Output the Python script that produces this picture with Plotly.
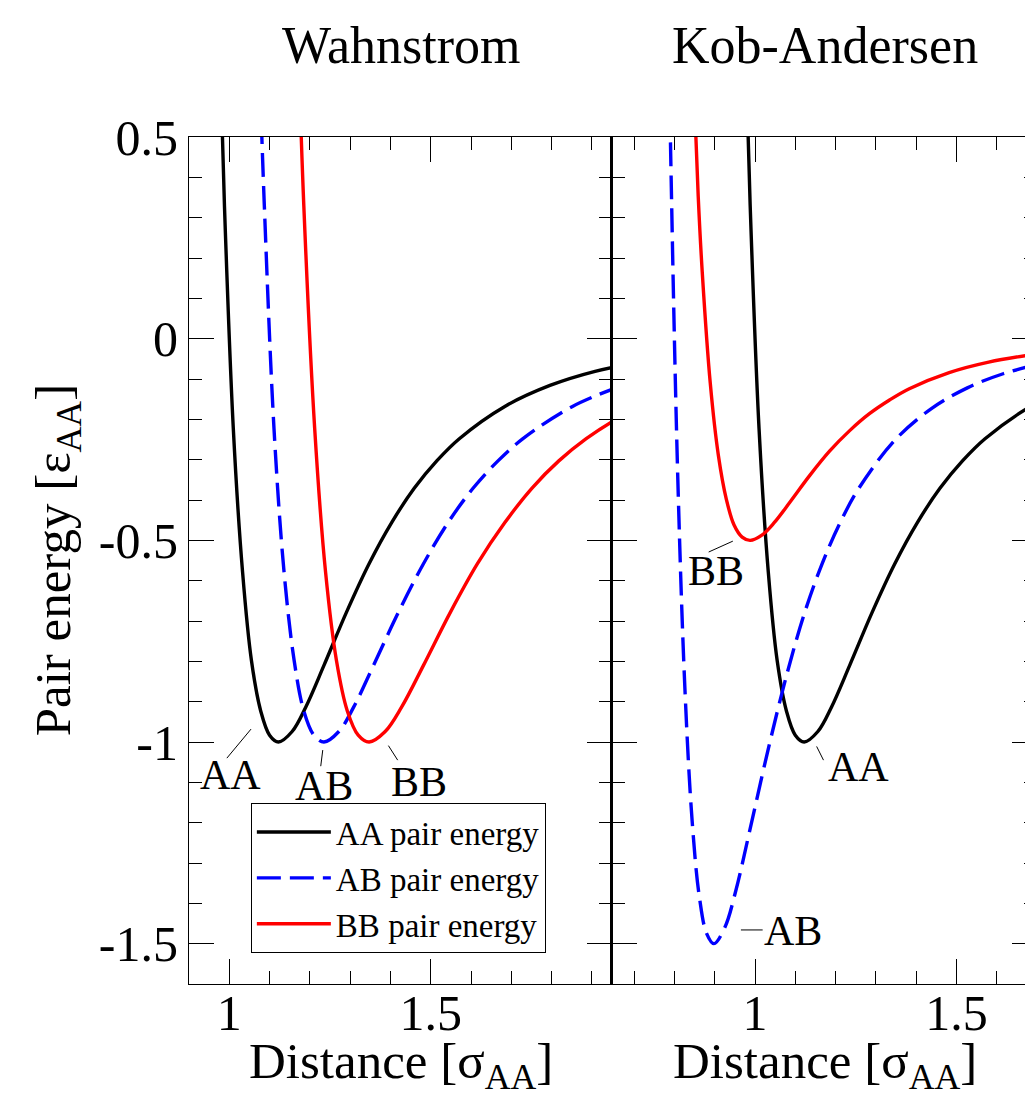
import plotly.graph_objects as go

FONT = "Liberation Serif"

# ---------------- data ----------------
# Wahnstrom
w_aa_x = [0.977, 0.988, 1.010, 1.033, 1.055, 1.078, 1.100, 1.122, 1.156, 1.190, 1.235,
          1.291, 1.347, 1.403, 1.459, 1.515, 1.571, 1.684, 1.796, 1.908, 2.020]
w_aa_y = [0.706, 0.330, -0.223, -0.579, -0.798, -0.923, -0.983, -1.000, -0.974, -0.913, -0.810,
          -0.678, -0.558, -0.456, -0.371, -0.303, -0.248, -0.168, -0.116, -0.081, -0.058]

w_ab_x = [1.074, 1.087, 1.111, 1.136, 1.161, 1.185, 1.210, 1.235, 1.272, 1.309, 1.358,
          1.420, 1.482, 1.543, 1.605, 1.667, 1.729, 1.852, 1.976]
w_ab_y = [0.706, 0.330, -0.223, -0.579, -0.798, -0.923, -0.983, -1.000, -0.974, -0.913, -0.810,
          -0.678, -0.558, -0.456, -0.371, -0.303, -0.248, -0.168, -0.116]

w_bb_x = [1.172, 1.185, 1.212, 1.239, 1.266, 1.293, 1.320, 1.347, 1.387, 1.428, 1.482,
          1.549, 1.616, 1.684, 1.751, 1.818, 1.886, 1.953, 2.020]
w_bb_y = [0.706, 0.330, -0.223, -0.579, -0.798, -0.923, -0.983, -1.000, -0.974, -0.913, -0.810,
          -0.678, -0.558, -0.456, -0.371, -0.303, -0.248, -0.204, -0.168]

# Kob-Andersen
ka_aa_x = [0.977, 0.988, 1.010, 1.033, 1.055, 1.078, 1.100, 1.122, 1.156, 1.190, 1.235,
           1.291, 1.347, 1.403, 1.459, 1.515, 1.571, 1.684, 1.796]
ka_aa_y = [0.706, 0.330, -0.223, -0.579, -0.798, -0.923, -0.983, -1.000, -0.974, -0.913, -0.810,
           -0.678, -0.558, -0.456, -0.371, -0.303, -0.248, -0.168, -0.116]

ka_ab_x = [0.781, 0.790, 0.808, 0.826, 0.844, 0.862, 0.880, 0.898, 0.925, 0.952, 0.988,
           1.033, 1.078, 1.122, 1.167, 1.212, 1.257, 1.347, 1.437, 1.527, 1.616, 1.706]
ka_ab_y = [1.059, 0.495, -0.334, -0.868, -1.197, -1.385, -1.475, -1.500, -1.460, -1.370, -1.215,
           -1.017, -0.836, -0.683, -0.557, -0.455, -0.372, -0.252, -0.174, -0.122, -0.087, -0.063]

ka_bb_x = [0.840, 0.850, 0.859, 0.869, 0.889, 0.909, 0.929, 0.948, 0.968, 0.988, 1.017, 1.047,
           1.087, 1.136, 1.185, 1.235, 1.284, 1.334, 1.383, 1.482, 1.580, 1.679, 1.778]
ka_bb_y = [0.864, 0.583, 0.353, 0.165, -0.111, -0.289, -0.399, -0.462, -0.492, -0.500, -0.487, -0.457,
           -0.405, -0.339, -0.279, -0.228, -0.186, -0.152, -0.124, -0.084, -0.058, -0.041, -0.029]

series_names = ["AA pair energy", "AB pair energy", "BB pair energy"]
panel_titles = ["Wahnstrom", "Kob-Andersen"]
x_tickvals = [1, 1.5]
x_ticktext = ["1", "1.5"]
y_tickvals = [0.5, 0, -0.5, -1, -1.5]
y_ticktext = ["0.5", "0", "-0.5", "-1", "-1.5"]

# ---------------- figure ----------------
styles = [
    dict(color="#000000", width=3.4, shape="spline"),
    dict(color="#0000FF", width=3.4, shape="spline", dash="24px,9px"),
    dict(color="#FF0000", width=3.4, shape="spline"),
]

fig = go.Figure()
left = [(w_aa_x, w_aa_y), (w_ab_x, w_ab_y), (w_bb_x, w_bb_y)]
right = [(ka_aa_x, ka_aa_y), (ka_ab_x, ka_ab_y), (ka_bb_x, ka_bb_y)]
for i, (xs, ys) in enumerate(left):
    fig.add_trace(go.Scatter(x=xs, y=ys, mode="lines", line=styles[i], name=series_names[i],
                             legendgroup=series_names[i], xaxis="x", yaxis="y"))
for i, (xs, ys) in enumerate(right):
    fig.add_trace(go.Scatter(x=xs, y=ys, mode="lines", line=styles[i], name=series_names[i],
                             legendgroup=series_names[i], showlegend=False, xaxis="x2", yaxis="y2"))

# page coordinates: body margin of 8px shifts the figure
OFF = 8
P_LEFT, P_SPLIT, P_RIGHT = 189, 613, 1039
P_TOP, P_BOT = 137, 984
FW = P_RIGHT - OFF          # figure width (right panel runs to the window edge)
FH = 1097 - OFF
ML, MR = P_LEFT - OFF, 0
MT, MB = P_TOP - OFF, FH - (P_BOT - OFF)
PW, PH = P_RIGHT - P_LEFT, P_BOT - P_TOP
split = (P_SPLIT - P_LEFT) / PW


def px2paper(px, py):
    return (px - P_LEFT) / PW, (P_BOT - py) / PH


tickfont = dict(family=FONT, size=50, color="black")
common_x = dict(tickmode="array", tickvals=x_tickvals, ticktext=x_ticktext,
                ticks="inside", ticklen=25, tickwidth=1.2, tickcolor="black",
                minor=dict(tickmode="linear", tick0=0, dtick=0.1, ticks="inside",
                           ticklen=13, tickwidth=1.2, tickcolor="black"),
                showline=True, linecolor="black", linewidth=1.2, mirror="ticks",
                showgrid=False, zeroline=False, tickfont=tickfont, ticklabelstandoff=-15)
common_y = dict(tickmode="array", tickvals=y_tickvals, ticktext=y_ticktext,
                ticks="inside", ticklen=25, tickwidth=1.2, tickcolor="black",
                minor=dict(tickmode="linear", tick0=0, dtick=0.1, ticks="inside",
                           ticklen=13, tickwidth=1.2, tickcolor="black"),
                showline=True, linecolor="black", mirror="ticks",
                showgrid=False, zeroline=False, tickfont=tickfont, range=[-1.6, 0.5])

fig.update_layout(
    width=FW, height=FH,
    margin=dict(l=ML, r=MR, t=MT, b=MB, pad=0),
    paper_bgcolor="white", plot_bgcolor="white",
    font=dict(family=FONT, color="black"),
    xaxis=dict(domain=[0, split], anchor="y", range=[0.9, 1.95], **common_x),
    xaxis2=dict(domain=[split, 1], anchor="y2", range=[0.645, 1.700], **common_x),
    yaxis=dict(domain=[0, 1], anchor="x", linewidth=1.2, **common_y),
    yaxis2=dict(domain=[0, 1], anchor="x2", linewidth=2.2, showticklabels=False, **common_y),
    legend=dict(x=px2paper(251, 0)[0], y=px2paper(0, 803)[1], xanchor="left", yanchor="top",
                bgcolor="white", bordercolor="black", borderwidth=1,
                font=dict(family=FONT, size=33, color="black"), tracegroupgap=0,
                itemwidth=74),
    showlegend=True,
)

annotations = []
# panel titles
for t, cx in zip(panel_titles, [401, 826]):
    ax, ay = px2paper(cx, 46)
    annotations.append(dict(text=t, x=ax, y=ay, xref="paper", yref="paper", showarrow=False,
                            xanchor="center", yanchor="middle",
                            font=dict(family=FONT, size=52, color="black")))
# x axis titles
for cx in [401, 826]:
    ax, ay = px2paper(cx, 1031)
    annotations.append(dict(text="Distance [σ<sub>AA</sub>]", x=ax, y=ay, xref="paper", yref="paper",
                            showarrow=False, xanchor="center", yanchor="top",
                            font=dict(family=FONT, size=51, color="black")))
# y axis title
ax, ay = px2paper(57, 560)
annotations.append(dict(text="Pair energy [ε<sub>AA</sub>]", x=ax, y=ay, xref="paper", yref="paper",
                        showarrow=False, xanchor="center", yanchor="middle", textangle=-90,
                        font=dict(family=FONT, size=51, color="black")))

# curve labels (data coordinates)
labels = [
    ("AA", 1.004, -1.082, "x", "y"),
    ("AB", 1.236, -1.109, "x", "y"),
    ("BB", 1.471, -1.099, "x", "y"),
    ("BB", 0.903, -0.576, "x2", "y2"),
    ("AA", 1.257, -1.062, "x2", "y2"),
    ("AB", 1.095, -1.469, "x2", "y2"),
]
for t, lx, ly, xr, yr in labels:
    annotations.append(dict(text=t, x=lx, y=ly, xref=xr, yref=yr, showarrow=False,
                            xanchor="center", yanchor="middle",
                            font=dict(family=FONT, size=42, color="black")))
fig.update_layout(annotations=annotations)

leaders = [
    (0.994, -1.040, 1.054, -0.968, "x", "y"),
    (1.227, -1.060, 1.232, -1.020, "x", "y"),
    (1.395, -1.009, 1.418, -1.045, "x", "y"),
    (0.885, -0.529, 0.945, -0.502, "x2", "y2"),
    (1.153, -1.011, 1.170, -1.045, "x2", "y2"),
    (0.965, -1.466, 1.019, -1.466, "x2", "y2"),
]
for x0, y0, x1, y1, xr, yr in leaders:
    fig.add_shape(type="line", x0=x0, y0=y0, x1=x1, y1=y1, xref=xr, yref=yr,
                  line=dict(color="black", width=1))

fig.write_html("out.html")
